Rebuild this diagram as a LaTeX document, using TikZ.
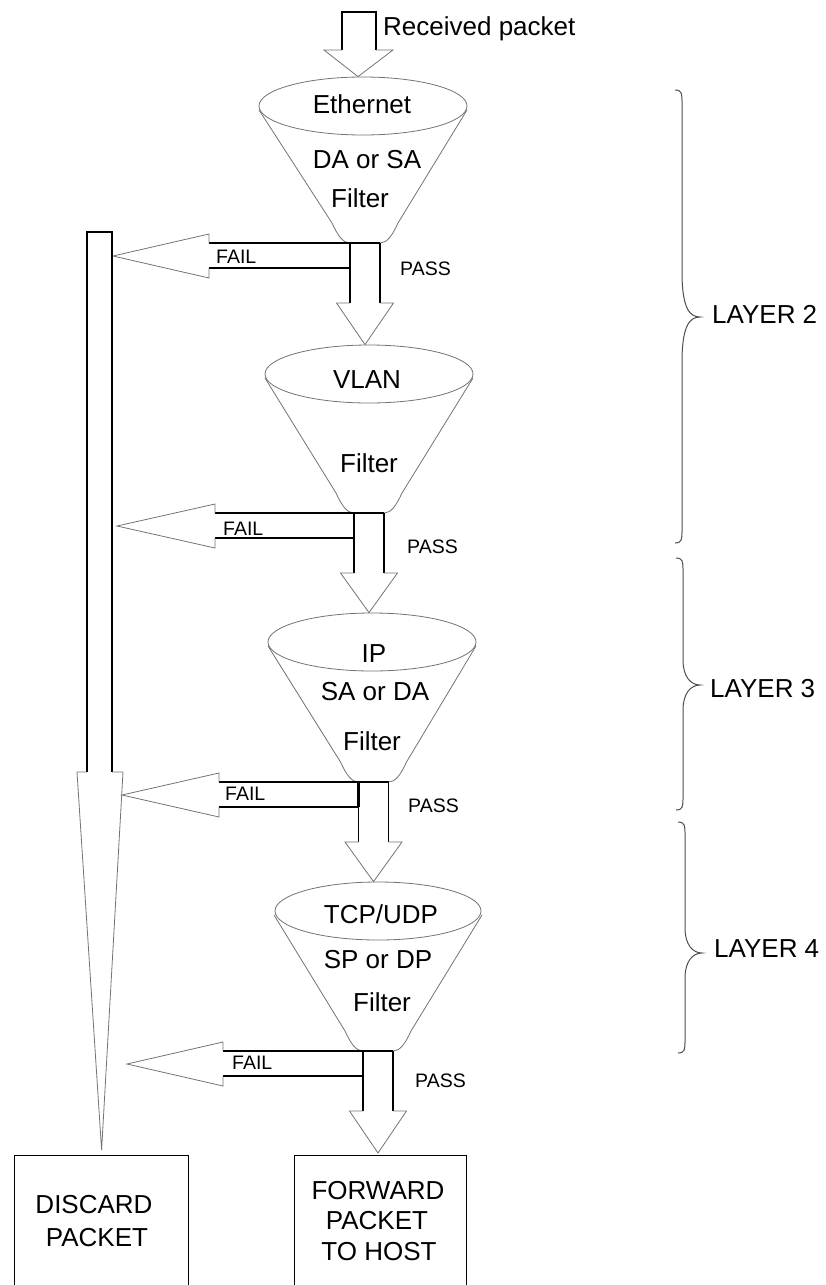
\documentclass[tikz,border=0pt]{standalone}
\usepackage{fontspec}
\setmainfont{Liberation Sans}
\usetikzlibrary{shapes.geometric}
\tikzset{
  shaft/.style={draw=black, line width=1.3pt},
  head/.style={draw=black!55, line width=0.8pt, line join=miter},
  rim/.style={ellipse, draw=black!55, line width=0.8pt, minimum width=208pt, minimum height=58pt, inner sep=0pt},
  cone/.style={draw=black!55, line width=0.8pt},
  big/.style={font=\fontsize{26}{30}\selectfont, inner sep=0pt},
  small/.style={font=\fontsize{19.5}{22}\selectfont, inner sep=0pt},
  endbox/.style={draw=black, line width=1.2pt, minimum width=174pt, minimum height=135pt, anchor=north west, inner sep=0pt},
  layerbr/.style={draw=black!70, line width=1pt},
}
% #1 name, #2 cx, #3 cy, #4 shaft centre x, #5 bottom y, #6 fail shaft left x, #7 fail tip x, #8 pass target
\newcommand\filterstage[8]{%
  \coordinate (px#1) at (#4,0);
  \draw[cone] (#2-104,#3+4) -- (#4-33,#5-20) .. controls (#4-27,#5-7) and (#4-22,#5) .. (#4-15,#5)
     -- (#4+15,#5) .. controls (#4+22,#5) and (#4+27,#5-7) .. (#4+33,#5-20) -- (#2+104,#3+4);
  % fail arrow
  \draw[shaft] (#4+15,#5) -- (#6,#5);
  \draw[shaft] (#4-15,#5+25) -- (#6,#5+25);
  \draw[head] (#6,#5) -- (#6,#5-9) -- (#7,#5+13) -- (#6,#5+35) -- (#6,#5+25);
  % pass arrow
  \draw[shaft] (#4-15,#5) -- (#4-15,#5+60);
  \draw[shaft, line width=2.6pt] (#4-15,#5) -- (#4-15,#5+25);
  \draw[shaft] (#4+15,#5) -- (#4+15,#5+60);
  \draw[head] (#4-15,#5+60) -- (#4-28.5,#5+60) -- (#8 -| px#1) -- (#4+28.5,#5+60) -- (#4+15,#5+60);
}
% #1 line x, #2 top, #3 mid, #4 bottom, #5 curve extent, #6 tip x
\newcommand\layerbrace[6]{%
  \draw[layerbr] (#1-7,#2) .. controls (#1,#2) and (#1,#2+4) .. (#1,#2+12) -- (#1,#3-#5)
    .. controls (#1,#3-8) and (#1+8,#3) .. (#6,#3)
    .. controls (#1+8,#3) and (#1,#3+8) .. (#1,#3+#5) -- (#1,#4-12)
    .. controls (#1,#4-4) and (#1,#4) .. (#1-7,#4);
}
\begin{document}
\begin{tikzpicture}[x=1pt,y=-1pt]
\useasboundingbox (0,0) rectangle (825,1285);

% funnel rims
\node[rim] (e1) at (363,106) {};
\node[rim] (e2) at (369,374) {};
\node[rim] (e3) at (372,642) {};
\node[rim, minimum width=206pt] (e4) at (378,911) {};

% end boxes
\node[endbox] (discard) at (14,1155) {};
\node[endbox, minimum width=172pt] (fwd) at (294,1155) {};

% incoming arrow
\coordinate (inx) at (358,0);
\draw[shaft] (342,50) -- (342,12) -- (376,12) -- (376,50);
\draw[head] (342,50) -- (324,50) -- (e1.north -| inx) -- (393,50) -- (376,50);
\node[big, anchor=base west] (recv) at (383,35) {Received packet};

% stages
\filterstage{s1}{363}{106}{365}{243}{209}{113}{e2.north}
\filterstage{s2}{369}{374}{369}{513}{215}{117}{e3.north}
\filterstage{s3}{372}{642}{373.5}{782}{219}{122}{e4.north}
\filterstage{s4}{378}{911}{378}{1051}{223}{127}{[yshift=2pt]fwd.north}

% discard column
\draw[shaft] (87,772) -- (87,232) -- (112,232) -- (112,772);
\draw[head] (87,772) -- (77,772) -- ([yshift=5pt]discard.north) -- (123,772) -- (112,772);

% funnel texts
\node[big, anchor=base] (t1a) at (362,113) {Ethernet};
\node[big, anchor=base] (t1b) at (367,168) {DA or SA};
\node[big, anchor=base] (t1c) at (360,207) {Filter};
\node[big, anchor=base] (t2a) at (367,388) {VLAN};
\node[big, anchor=base] (t2c) at (369,472) {Filter};
\node[big, anchor=base] (t3a) at (374,662) {IP};
\node[big, anchor=base] (t3b) at (375,700) {SA or DA};
\node[big, anchor=base] (t3c) at (372,750) {Filter};
\node[big, anchor=base] (t4a) at (381,923) {TCP/UDP};
\node[big, anchor=base] (t4b) at (378,968) {SP or DP};
\node[big, anchor=base] (t4c) at (382,1011) {Filter};

% fail / pass labels
\node[small, anchor=base west] (f1) at (216,263) {FAIL};
\node[small, anchor=base west] (f2) at (223,535) {FAIL};
\node[small, anchor=base west] (f3) at (225,800) {FAIL};
\node[small, anchor=base west] (f4) at (232,1069) {FAIL};
\node[small, anchor=base west] (p1) at (400,275) {PASS};
\node[small, anchor=base west] (p2) at (407,553) {PASS};
\node[small, anchor=base west] (p3) at (408,812) {PASS};
\node[small, anchor=base west] (p4) at (415,1087) {PASS};

% box texts
\node[big, anchor=base] (d1) at (94,1213) {DISCARD};
\node[big, anchor=base] (d2) at (97,1246) {PACKET};
\node[big, anchor=base] (w1) at (378,1199) {FORWARD};
\node[big, anchor=base] (w2) at (377,1229) {PACKET};
\node[big, anchor=base] (w3) at (379,1260) {TO HOST};

% layer braces
\layerbrace{682}{90}{317}{543}{45}{700}
\layerbrace{683}{558}{685}{810}{25}{700}
\layerbrace{685}{822}{953}{1053}{25}{702}
\node[big, anchor=base west] (l2) at (712,323) {LAYER 2};
\node[big, anchor=base west] (l3) at (710,697) {LAYER 3};
\node[big, anchor=base west] (l4) at (714,957) {LAYER 4};
\end{tikzpicture}
\end{document}
